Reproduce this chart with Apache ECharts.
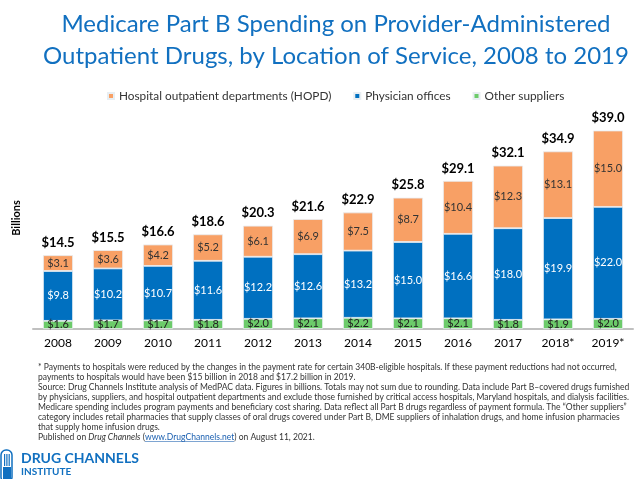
<!DOCTYPE html>
<html>
<head>
<meta http-equiv="Content-Type" content="text/html; charset=utf-8" />
<title>Medicare Part B</title>
<style type="text/css">
html,body{height:100%;margin:0px;padding:0px;background:#fff}
#chart{width:640px;height:479px}
</style>
<script src="https://cdn.jsdelivr.net/npm/echarts@6/dist/echarts.min.js"></script>
</head>
<body>
<div id="chart"></div>
<script type="text/javascript">
var years = ['2008','2009','2010','2011','2012','2013','2014','2015','2016','2017','2018*','2019*'];
var otherVals = [1.6,1.7,1.7,1.8,2.0,2.1,2.2,2.1,2.1,1.8,1.9,2.0];
var physicianVals = [9.8,10.2,10.7,11.6,12.2,12.6,13.2,15.0,16.6,18.0,19.9,22.0];
var hopdVals = [3.1,3.6,4.2,5.2,6.1,6.9,7.5,8.7,10.4,12.3,13.1,15.0];
var totals = [14.5,15.5,16.6,18.6,20.3,21.6,22.9,25.8,29.1,32.1,34.9,39.0];

var notes = [
	'* Payments to hospitals were reduced by the changes in the payment rate for certain 340B-eligible hospitals. If these payment reductions had not occurred,',
	'payments to hospitals would have been $15 billion in 2018 and $17.2 billion in 2019.',
	'Source: Drug Channels Institute analysis of MedPAC data. Figures in billions. Totals may not sum due to rounding. Data include Part B\u2013covered drugs furnished',
	'by physicians, suppliers, and hospital outpatient departments and exclude those furnished by critical access hospitals, Maryland hospitals, and dialysis facilities.',
	'Medicare spending includes program payments and beneficiary cost sharing. Data reflect all Part B drugs regardless of payment formula. The \u201cOther suppliers\u201d',
	'category includes retail pharmacies that supply classes of oral drugs covered under Part B, DME suppliers of inhalation drugs, and home infusion pharmacies',
	'that supply home infusion drugs.'
];
var pubPre = 'Published on ', pubItal = 'Drug Channels', pubMid = ' (', pubUrl = 'www.DrugChannels.net', pubPost = ') on August 11, 2021.';

var fnt = 'Lato, "Open Sans", sans-serif';
var noteSize = 9.5;
var noteFont = noteSize + 'px Lato, sans-serif';

function money(v){ return '$' + v.toFixed(1); }

// squeeze the footnote so its widest line fits like the original
var ctx = document.createElement('canvas').getContext('2d');
ctx.font = noteFont;
var noteScale = 591 / ctx.measureText(notes[3]).width;
var preW = ctx.measureText(pubPre + pubMid).width;
ctx.font = 'italic ' + noteFont;
preW += ctx.measureText(pubItal).width;
ctx.font = noteFont;
var urlW = ctx.measureText(pubUrl).width;

var noteChildren = notes.map(function(t, i){
	return {type: 'text', x: 0, y: i * 10, style: {text: t, fill: '#333', font: noteFont, verticalAlign: 'middle'}};
});
noteChildren.push({
	type: 'text', x: 0, y: notes.length * 10,
	style: {
		text: pubPre + '{i|' + pubItal + '}' + pubMid + '{u|' + pubUrl + '}' + pubPost,
		fill: '#333', font: noteFont, verticalAlign: 'middle',
		rich: {
			i: {fontStyle: 'italic', fill: '#333', fontFamily: 'Lato, sans-serif', fontSize: noteSize},
			u: {fill: '#1a5fb0', fontFamily: 'Lato, sans-serif', fontSize: noteSize}
		}
	}
});
noteChildren.push({
	type: 'line', shape: {x1: preW, y1: notes.length * 10 + 4.5, x2: preW + urlW, y2: notes.length * 10 + 4.5},
	style: {stroke: '#1a5fb0', lineWidth: 0.6}
});

var chart = echarts.init(document.getElementById('chart'));

var option = {
	backgroundColor: '#fff',
	animation: false,
	title: {
		text: 'Medicare Part B Spending on Provider-Administered\nOutpatient Drugs, by Location of Service, 2008 to 2019',
		left: 336,
		textAlign: 'center',
		top: 8,
		padding: 0,
		textStyle: {color: '#1170C0', fontFamily: fnt, fontWeight: 'normal', fontSize: 24, lineHeight: 32}
	},
	legend: {
		top: 85,
		left: 102,
		icon: 'rect',
		itemWidth: 6,
		itemHeight: 6,
		itemGap: 22,
		data: ['Hospital outpatient departments (HOPD)','Physician offices','Other suppliers'],
		textStyle: {color: '#333', fontFamily: fnt, fontSize: 11.8}
	},
	grid: {left: 33, right: 7, top: 100, bottom: 150},
	xAxis: {
		type: 'category',
		data: years,
		axisLine: {lineStyle: {color: '#c0c0c0', width: 2}},
		axisTick: {show: false},
		axisLabel: {color: '#000', fontFamily: fnt, fontSize: 12, margin: 8}
	},
	yAxis: {
		type: 'value',
		min: 0,
		max: 45,
		show: false,
		splitLine: {show: false}
	},
	series: [
		{
			name: 'Other suppliers',
			type: 'bar',
			stack: 'all',
			barCategoryGap: '40%',
			data: otherVals,
			itemStyle: {color: '#6CCB6A', borderColor: '#e8eef2', borderWidth: 0.8},
			label: {show: true, position: 'inside', color: '#222', fontFamily: fnt, fontSize: 11,
				formatter: function(p){ return money(p.value); }}
		},
		{
			name: 'Physician offices',
			type: 'bar',
			stack: 'all',
			data: physicianVals,
			itemStyle: {color: '#0070C0', borderColor: '#e8eef2', borderWidth: 0.8},
			label: {show: true, position: 'inside', color: '#fff', fontFamily: fnt, fontSize: 11,
				formatter: function(p){ return money(p.value); }}
		},
		{
			name: 'Hospital outpatient departments (HOPD)',
			type: 'bar',
			stack: 'all',
			data: hopdVals,
			itemStyle: {color: '#F8A065', borderColor: '#e8eef2', borderWidth: 0.8},
			label: {show: true, position: 'inside', color: '#333', fontFamily: fnt, fontSize: 11,
				formatter: function(p){ return money(p.value); }}
		},
		{
			// totals on top
			name: 'total',
			type: 'bar',
			stack: 'all',
			data: totals.map(function(){ return 0; }),
			itemStyle: {color: 'transparent'},
			label: {show: true, position: 'top', distance: 6, color: '#000', fontFamily: fnt, fontSize: 13, fontWeight: 'bold',
				formatter: function(p){ return money(totals[p.dataIndex]); }}
		}
	],
	graphic: [
		{
			type: 'text', x: 16, y: 218, rotation: Math.PI / 2,
			style: {text: 'Billions', fill: '#000', font: 'bold 11px ' + fnt, align: 'center', verticalAlign: 'middle'}
		},
		{type: 'group', x: 38, y: 367, scaleX: noteScale, children: noteChildren},
		// logo
		{type: 'rect', shape: {x: 1, y: 450, width: 11, height: 32, r: 5}, style: {fill: 'none', stroke: '#1170C0', lineWidth: 1.5}},
		{type: 'rect', shape: {x: 4, y: 454, width: 1.2, height: 12}, style: {fill: '#1170C0'}},
		{type: 'rect', shape: {x: 6.3, y: 454, width: 1.2, height: 12}, style: {fill: '#1170C0'}},
		{type: 'rect', shape: {x: 8.6, y: 454, width: 1.2, height: 12}, style: {fill: '#1170C0'}},
		{type: 'rect', shape: {x: 3, y: 467, width: 8, height: 12}, style: {fill: '#1170C0'}},
		{
			type: 'text', x: 21, y: 458,
			style: {text: 'DRUG CHANNELS', fill: '#1170C0', font: 'bold 14px ' + fnt, verticalAlign: 'middle'}
		},
		{
			type: 'text', x: 21, y: 472,
			style: {text: 'INSTITUTE', fill: '#1170C0', font: 'bold 10px ' + fnt, verticalAlign: 'middle'}
		}
	]
};
chart.setOption(option);
</script>
</body>
</html>
